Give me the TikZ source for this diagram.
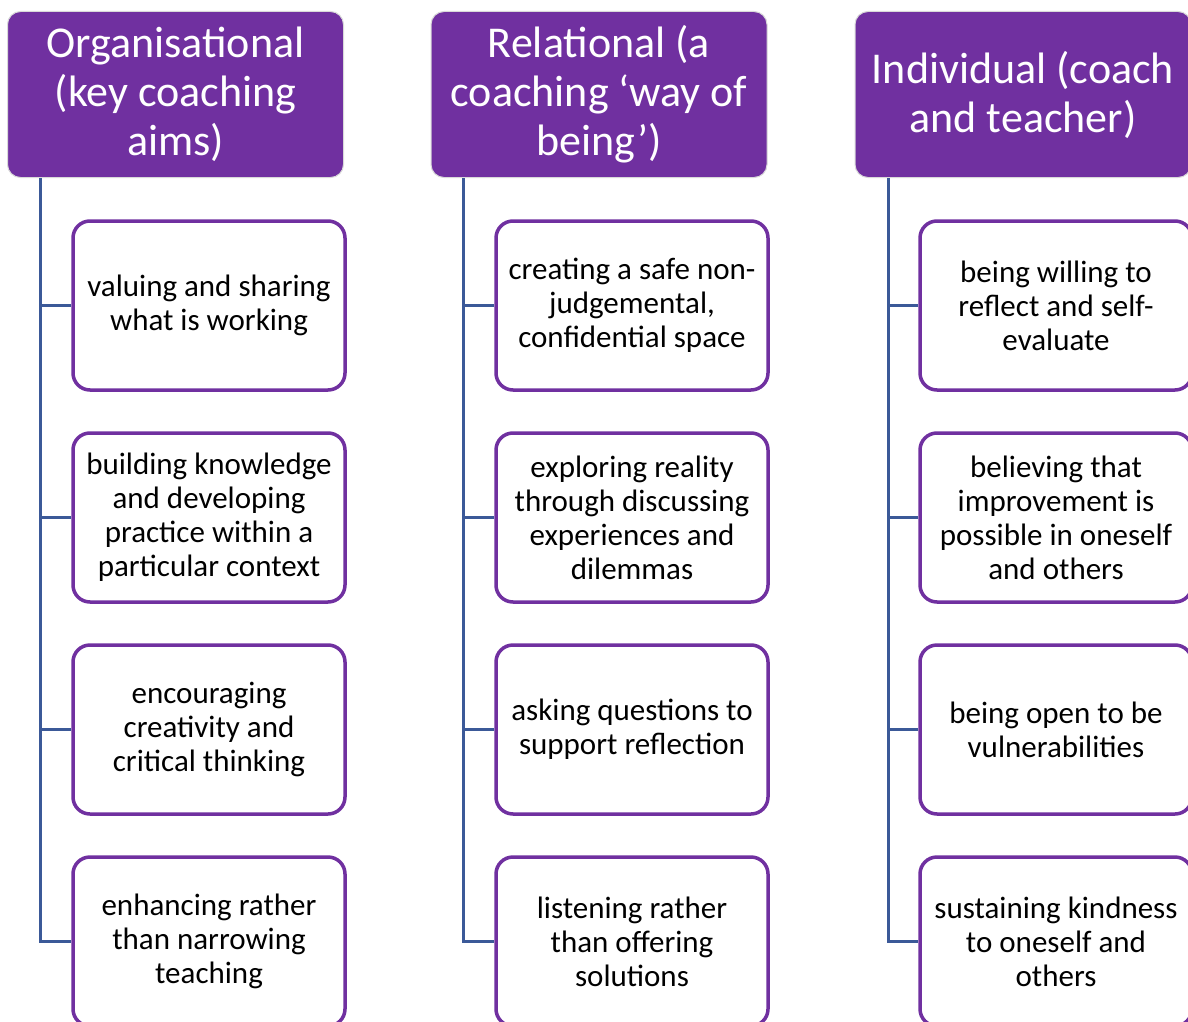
\documentclass[tikz,border=0pt]{standalone}
\usepackage{fontspec}
\setmainfont{Carlito}
\definecolor{headpurple}{RGB}{112,48,160}
\definecolor{linkblue}{RGB}{59,89,152}
\tikzset{
  headbox/.style={rectangle, rounded corners=13pt, fill=headpurple, draw=black!15, line width=1pt,
    minimum width=336pt, minimum height=166pt, text=white, align=center,
    font=\fontsize{44}{49}\selectfont, inner sep=0pt},
  itembox/.style={rectangle, rounded corners=17pt, fill=white, draw=headpurple, line width=3.5pt,
    minimum width=272pt, minimum height=169pt, text=black, align=center,
    font=\fontsize{31}{34}\selectfont, inner sep=0pt},
  conn/.style={draw=linkblue, line width=3pt}
}
\begin{document}
\begin{tikzpicture}[x=1pt,y=-1pt]
\useasboundingbox (0,0) rectangle (1188,1022);
\clip (0,0) rectangle (1188,1022);
\fill[white] (0,0) rectangle (1188,1022);

% column headers
\node[headbox] (h1) at (175.5,94.5) {Organisational\\(key coaching\\aims)};
\node[headbox] (h2) at (599,94.5) {Relational (a\\coaching ‘way of\\being’)};
\node[headbox] (h3) at (1023,94.5) {Individual (coach\\and teacher)};

% spine start points under each header
\coordinate (v1) at (40,178);
\coordinate (v2) at (463,178);
\coordinate (v3) at (888,178);

% organisational items
\node[itembox] (a1) at (209,305.5) {valuing and sharing\\what is working};
\node[itembox] (a2) at (209,517.5) {building knowledge\\and developing\\practice within a\\particular context};
\node[itembox] (a3) at (209,729.5) {encouraging\\creativity and\\critical thinking};
\node[itembox] (a4) at (209,941.5) {enhancing rather\\than narrowing\\teaching};

% relational items
\node[itembox] (b1) at (632,305.5) {creating a safe non-\\judgemental,\\confidential space};
\node[itembox] (b2) at (632,517.5) {exploring reality\\through discussing\\experiences and\\dilemmas};
\node[itembox] (b3) at (632,729.5) {asking questions to\\support reflection};
\node[itembox] (b4) at (632,941.5) {listening rather\\than offering\\solutions};

% individual items
\node[itembox] (c1) at (1056,305.5) {being willing to\\reflect and self-\\evaluate};
\node[itembox] (c2) at (1056,517.5) {believing that\\improvement is\\possible in oneself\\and others};
\node[itembox] (c3) at (1056,729.5) {being open to be\\vulnerabilities};
\node[itembox] (c4) at (1056,941.5) {sustaining kindness\\to oneself and\\others};

% connectors
\draw[conn] (v1) |- (a4.west);
\foreach \n in {a1,a2,a3} \draw[conn] (\n.west) -- (\n.west -| v1);
\draw[conn] (v2) |- (b4.west);
\foreach \n in {b1,b2,b3} \draw[conn] (\n.west) -- (\n.west -| v2);
\draw[conn] (v3) |- (c4.west);
\foreach \n in {c1,c2,c3} \draw[conn] (\n.west) -- (\n.west -| v3);
\end{tikzpicture}
\end{document}
